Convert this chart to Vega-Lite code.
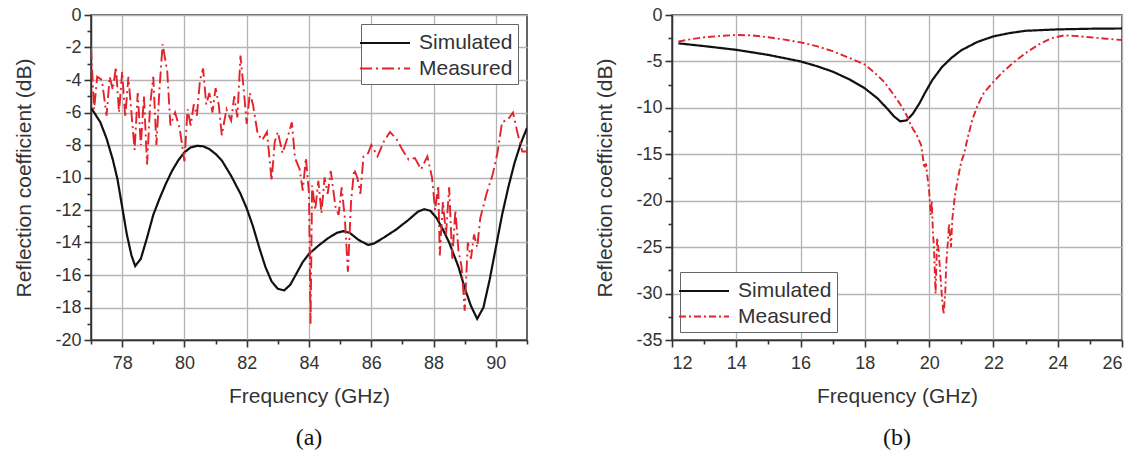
{
  "$schema": "https://vega.github.io/schema/vega-lite/v6.json",
  "padding": {"left": 13, "top": 5, "right": 2, "bottom": 0},
  "background": "white",
  "datasets": {
    "a": [
      {"f": 77.0, "db": -5.7, "series": "Simulated"},
      {"f": 77.3, "db": -6.6, "series": "Simulated"},
      {"f": 77.5, "db": -7.6, "series": "Simulated"},
      {"f": 77.7, "db": -8.9, "series": "Simulated"},
      {"f": 77.85, "db": -10.1, "series": "Simulated"},
      {"f": 78.0, "db": -11.8, "series": "Simulated"},
      {"f": 78.15, "db": -13.5, "series": "Simulated"},
      {"f": 78.3, "db": -14.8, "series": "Simulated"},
      {"f": 78.42, "db": -15.45, "series": "Simulated"},
      {"f": 78.6, "db": -15.0, "series": "Simulated"},
      {"f": 78.8, "db": -13.7, "series": "Simulated"},
      {"f": 79.0, "db": -12.3, "series": "Simulated"},
      {"f": 79.2, "db": -11.3, "series": "Simulated"},
      {"f": 79.4, "db": -10.4, "series": "Simulated"},
      {"f": 79.6, "db": -9.6, "series": "Simulated"},
      {"f": 79.8, "db": -8.95, "series": "Simulated"},
      {"f": 80.0, "db": -8.45, "series": "Simulated"},
      {"f": 80.2, "db": -8.15, "series": "Simulated"},
      {"f": 80.4, "db": -8.05, "series": "Simulated"},
      {"f": 80.6, "db": -8.08, "series": "Simulated"},
      {"f": 80.8, "db": -8.25, "series": "Simulated"},
      {"f": 81.0, "db": -8.55, "series": "Simulated"},
      {"f": 81.2, "db": -8.95, "series": "Simulated"},
      {"f": 81.5, "db": -9.9, "series": "Simulated"},
      {"f": 81.8, "db": -11.0, "series": "Simulated"},
      {"f": 82.0, "db": -11.9, "series": "Simulated"},
      {"f": 82.2, "db": -13.0, "series": "Simulated"},
      {"f": 82.4, "db": -14.3, "series": "Simulated"},
      {"f": 82.6, "db": -15.5, "series": "Simulated"},
      {"f": 82.8, "db": -16.4, "series": "Simulated"},
      {"f": 83.0, "db": -16.85, "series": "Simulated"},
      {"f": 83.2, "db": -16.95, "series": "Simulated"},
      {"f": 83.4, "db": -16.6, "series": "Simulated"},
      {"f": 83.6, "db": -15.9, "series": "Simulated"},
      {"f": 83.8, "db": -15.2, "series": "Simulated"},
      {"f": 84.0, "db": -14.7, "series": "Simulated"},
      {"f": 84.3, "db": -14.2, "series": "Simulated"},
      {"f": 84.6, "db": -13.75, "series": "Simulated"},
      {"f": 84.9, "db": -13.4, "series": "Simulated"},
      {"f": 85.1, "db": -13.3, "series": "Simulated"},
      {"f": 85.3, "db": -13.4, "series": "Simulated"},
      {"f": 85.6, "db": -13.85, "series": "Simulated"},
      {"f": 85.9, "db": -14.15, "series": "Simulated"},
      {"f": 86.1, "db": -14.05, "series": "Simulated"},
      {"f": 86.4, "db": -13.7, "series": "Simulated"},
      {"f": 86.8, "db": -13.2, "series": "Simulated"},
      {"f": 87.2, "db": -12.6, "series": "Simulated"},
      {"f": 87.5, "db": -12.1, "series": "Simulated"},
      {"f": 87.7, "db": -11.95, "series": "Simulated"},
      {"f": 87.9, "db": -12.05, "series": "Simulated"},
      {"f": 88.1, "db": -12.5, "series": "Simulated"},
      {"f": 88.3, "db": -13.2, "series": "Simulated"},
      {"f": 88.5, "db": -14.0, "series": "Simulated"},
      {"f": 88.8, "db": -15.5, "series": "Simulated"},
      {"f": 89.0, "db": -16.8, "series": "Simulated"},
      {"f": 89.2, "db": -17.9, "series": "Simulated"},
      {"f": 89.4, "db": -18.7, "series": "Simulated"},
      {"f": 89.6, "db": -18.0, "series": "Simulated"},
      {"f": 89.8, "db": -16.3, "series": "Simulated"},
      {"f": 90.0, "db": -14.3, "series": "Simulated"},
      {"f": 90.2, "db": -12.3, "series": "Simulated"},
      {"f": 90.4, "db": -10.6, "series": "Simulated"},
      {"f": 90.6, "db": -9.1, "series": "Simulated"},
      {"f": 90.8, "db": -7.9, "series": "Simulated"},
      {"f": 91.0, "db": -6.95, "series": "Simulated"},
      {"f": 77.0, "db": -2.0, "series": "Measured"},
      {"f": 77.1, "db": -5.8, "series": "Measured"},
      {"f": 77.2, "db": -3.8, "series": "Measured"},
      {"f": 77.35, "db": -4.0, "series": "Measured"},
      {"f": 77.5, "db": -6.2, "series": "Measured"},
      {"f": 77.6, "db": -3.8, "series": "Measured"},
      {"f": 77.7, "db": -4.6, "series": "Measured"},
      {"f": 77.8, "db": -3.2, "series": "Measured"},
      {"f": 77.9, "db": -6.0, "series": "Measured"},
      {"f": 78.0, "db": -3.5, "series": "Measured"},
      {"f": 78.1, "db": -6.3, "series": "Measured"},
      {"f": 78.2, "db": -3.8, "series": "Measured"},
      {"f": 78.4, "db": -8.3, "series": "Measured"},
      {"f": 78.5, "db": -4.8, "series": "Measured"},
      {"f": 78.6, "db": -8.0, "series": "Measured"},
      {"f": 78.7, "db": -5.0, "series": "Measured"},
      {"f": 78.8, "db": -9.2, "series": "Measured"},
      {"f": 78.9, "db": -5.5, "series": "Measured"},
      {"f": 79.0, "db": -3.8, "series": "Measured"},
      {"f": 79.1, "db": -8.0, "series": "Measured"},
      {"f": 79.2, "db": -4.5, "series": "Measured"},
      {"f": 79.3, "db": -1.8, "series": "Measured"},
      {"f": 79.45, "db": -3.5, "series": "Measured"},
      {"f": 79.55, "db": -6.8, "series": "Measured"},
      {"f": 79.7, "db": -6.0, "series": "Measured"},
      {"f": 79.85, "db": -7.0, "series": "Measured"},
      {"f": 80.0, "db": -9.0, "series": "Measured"},
      {"f": 80.1, "db": -5.8, "series": "Measured"},
      {"f": 80.2, "db": -6.8, "series": "Measured"},
      {"f": 80.3, "db": -5.5, "series": "Measured"},
      {"f": 80.4, "db": -6.2, "series": "Measured"},
      {"f": 80.5, "db": -4.0, "series": "Measured"},
      {"f": 80.6, "db": -3.3, "series": "Measured"},
      {"f": 80.7, "db": -5.5, "series": "Measured"},
      {"f": 80.8, "db": -4.8, "series": "Measured"},
      {"f": 80.9, "db": -6.0, "series": "Measured"},
      {"f": 81.0, "db": -4.5, "series": "Measured"},
      {"f": 81.1, "db": -5.5, "series": "Measured"},
      {"f": 81.2, "db": -7.4, "series": "Measured"},
      {"f": 81.35, "db": -5.8, "series": "Measured"},
      {"f": 81.5, "db": -6.5, "series": "Measured"},
      {"f": 81.6, "db": -5.0, "series": "Measured"},
      {"f": 81.7, "db": -6.3, "series": "Measured"},
      {"f": 81.8, "db": -2.5, "series": "Measured"},
      {"f": 81.9, "db": -4.5, "series": "Measured"},
      {"f": 82.0, "db": -6.7, "series": "Measured"},
      {"f": 82.1, "db": -4.8, "series": "Measured"},
      {"f": 82.2, "db": -5.5, "series": "Measured"},
      {"f": 82.35, "db": -7.3, "series": "Measured"},
      {"f": 82.5, "db": -7.7, "series": "Measured"},
      {"f": 82.65, "db": -7.2, "series": "Measured"},
      {"f": 82.8, "db": -10.2, "series": "Measured"},
      {"f": 82.9, "db": -7.8, "series": "Measured"},
      {"f": 83.0, "db": -7.2, "series": "Measured"},
      {"f": 83.15, "db": -8.5, "series": "Measured"},
      {"f": 83.3, "db": -7.6, "series": "Measured"},
      {"f": 83.45, "db": -6.6, "series": "Measured"},
      {"f": 83.55, "db": -8.8, "series": "Measured"},
      {"f": 83.7, "db": -9.5, "series": "Measured"},
      {"f": 83.8, "db": -10.8, "series": "Measured"},
      {"f": 83.9, "db": -8.8, "series": "Measured"},
      {"f": 84.0, "db": -11.0, "series": "Measured"},
      {"f": 84.05, "db": -19.0, "series": "Measured"},
      {"f": 84.1, "db": -10.5, "series": "Measured"},
      {"f": 84.2, "db": -12.0, "series": "Measured"},
      {"f": 84.3, "db": -10.2, "series": "Measured"},
      {"f": 84.4, "db": -12.2, "series": "Measured"},
      {"f": 84.5, "db": -10.0, "series": "Measured"},
      {"f": 84.6, "db": -11.0, "series": "Measured"},
      {"f": 84.7, "db": -9.6, "series": "Measured"},
      {"f": 84.85, "db": -11.8, "series": "Measured"},
      {"f": 84.95, "db": -12.3, "series": "Measured"},
      {"f": 85.05, "db": -10.6, "series": "Measured"},
      {"f": 85.15, "db": -12.5, "series": "Measured"},
      {"f": 85.25, "db": -15.8, "series": "Measured"},
      {"f": 85.35, "db": -11.5, "series": "Measured"},
      {"f": 85.45, "db": -9.5, "series": "Measured"},
      {"f": 85.55, "db": -10.0, "series": "Measured"},
      {"f": 85.65, "db": -11.0, "series": "Measured"},
      {"f": 85.75, "db": -8.7, "series": "Measured"},
      {"f": 85.9, "db": -8.5, "series": "Measured"},
      {"f": 86.0, "db": -8.0, "series": "Measured"},
      {"f": 86.2, "db": -8.7, "series": "Measured"},
      {"f": 86.4, "db": -7.8, "series": "Measured"},
      {"f": 86.6, "db": -7.2, "series": "Measured"},
      {"f": 86.8, "db": -7.6, "series": "Measured"},
      {"f": 87.0, "db": -8.3, "series": "Measured"},
      {"f": 87.2, "db": -8.9, "series": "Measured"},
      {"f": 87.4, "db": -8.8, "series": "Measured"},
      {"f": 87.6, "db": -9.5, "series": "Measured"},
      {"f": 87.8, "db": -8.7, "series": "Measured"},
      {"f": 87.95, "db": -10.0, "series": "Measured"},
      {"f": 88.05, "db": -12.0, "series": "Measured"},
      {"f": 88.15, "db": -10.5, "series": "Measured"},
      {"f": 88.2, "db": -14.8, "series": "Measured"},
      {"f": 88.3, "db": -11.5, "series": "Measured"},
      {"f": 88.4, "db": -13.5, "series": "Measured"},
      {"f": 88.5, "db": -10.6, "series": "Measured"},
      {"f": 88.6, "db": -15.0, "series": "Measured"},
      {"f": 88.7, "db": -12.0, "series": "Measured"},
      {"f": 88.8, "db": -14.5, "series": "Measured"},
      {"f": 88.9, "db": -15.5, "series": "Measured"},
      {"f": 89.0, "db": -18.2, "series": "Measured"},
      {"f": 89.1, "db": -14.0, "series": "Measured"},
      {"f": 89.2, "db": -15.0, "series": "Measured"},
      {"f": 89.3, "db": -13.5, "series": "Measured"},
      {"f": 89.4, "db": -14.3, "series": "Measured"},
      {"f": 89.5, "db": -12.5, "series": "Measured"},
      {"f": 89.7, "db": -11.0, "series": "Measured"},
      {"f": 89.9, "db": -9.8, "series": "Measured"},
      {"f": 90.05, "db": -8.5, "series": "Measured"},
      {"f": 90.2, "db": -6.6, "series": "Measured"},
      {"f": 90.4, "db": -6.4, "series": "Measured"},
      {"f": 90.55, "db": -6.0, "series": "Measured"},
      {"f": 90.7, "db": -7.3, "series": "Measured"},
      {"f": 90.85, "db": -8.4, "series": "Measured"},
      {"f": 91.0, "db": -8.4, "series": "Measured"}
    ],
    "b": [
      {"f": 12.2, "db": -3.05, "series": "Simulated"},
      {"f": 13.0, "db": -3.35, "series": "Simulated"},
      {"f": 14.0, "db": -3.75, "series": "Simulated"},
      {"f": 15.0, "db": -4.3, "series": "Simulated"},
      {"f": 16.0, "db": -5.0, "series": "Simulated"},
      {"f": 16.5, "db": -5.5, "series": "Simulated"},
      {"f": 17.0, "db": -6.1, "series": "Simulated"},
      {"f": 17.5, "db": -6.9, "series": "Simulated"},
      {"f": 18.0, "db": -7.9, "series": "Simulated"},
      {"f": 18.4, "db": -9.0, "series": "Simulated"},
      {"f": 18.7, "db": -10.1, "series": "Simulated"},
      {"f": 18.9, "db": -10.9, "series": "Simulated"},
      {"f": 19.1, "db": -11.45, "series": "Simulated"},
      {"f": 19.3, "db": -11.35, "series": "Simulated"},
      {"f": 19.5, "db": -10.6, "series": "Simulated"},
      {"f": 19.7, "db": -9.5, "series": "Simulated"},
      {"f": 19.9, "db": -8.2, "series": "Simulated"},
      {"f": 20.1, "db": -7.0, "series": "Simulated"},
      {"f": 20.4, "db": -5.6, "series": "Simulated"},
      {"f": 20.7, "db": -4.6, "series": "Simulated"},
      {"f": 21.0, "db": -3.8, "series": "Simulated"},
      {"f": 21.5, "db": -2.9, "series": "Simulated"},
      {"f": 22.0, "db": -2.3, "series": "Simulated"},
      {"f": 22.5, "db": -1.95, "series": "Simulated"},
      {"f": 23.0, "db": -1.7, "series": "Simulated"},
      {"f": 24.0, "db": -1.55, "series": "Simulated"},
      {"f": 25.0, "db": -1.48, "series": "Simulated"},
      {"f": 26.0, "db": -1.45, "series": "Simulated"},
      {"f": 12.2, "db": -2.85, "series": "Measured"},
      {"f": 12.6, "db": -2.6, "series": "Measured"},
      {"f": 13.0, "db": -2.4, "series": "Measured"},
      {"f": 13.5, "db": -2.25, "series": "Measured"},
      {"f": 14.0, "db": -2.15, "series": "Measured"},
      {"f": 14.5, "db": -2.2, "series": "Measured"},
      {"f": 15.0, "db": -2.4, "series": "Measured"},
      {"f": 15.5, "db": -2.65, "series": "Measured"},
      {"f": 16.0, "db": -2.95, "series": "Measured"},
      {"f": 16.5, "db": -3.35, "series": "Measured"},
      {"f": 17.0, "db": -3.9, "series": "Measured"},
      {"f": 17.5, "db": -4.6, "series": "Measured"},
      {"f": 18.0, "db": -5.35, "series": "Measured"},
      {"f": 18.3, "db": -6.2, "series": "Measured"},
      {"f": 18.6, "db": -7.2, "series": "Measured"},
      {"f": 18.9, "db": -8.6, "series": "Measured"},
      {"f": 19.1, "db": -9.6, "series": "Measured"},
      {"f": 19.3, "db": -10.8, "series": "Measured"},
      {"f": 19.4, "db": -11.6, "series": "Measured"},
      {"f": 19.5, "db": -12.3, "series": "Measured"},
      {"f": 19.6, "db": -12.8, "series": "Measured"},
      {"f": 19.7, "db": -13.6, "series": "Measured"},
      {"f": 19.75, "db": -14.0, "series": "Measured"},
      {"f": 19.8, "db": -15.2, "series": "Measured"},
      {"f": 19.85, "db": -16.5, "series": "Measured"},
      {"f": 19.9, "db": -16.0, "series": "Measured"},
      {"f": 19.95, "db": -17.5, "series": "Measured"},
      {"f": 20.0, "db": -19.0, "series": "Measured"},
      {"f": 20.05, "db": -21.5, "series": "Measured"},
      {"f": 20.08, "db": -20.0, "series": "Measured"},
      {"f": 20.12, "db": -23.5, "series": "Measured"},
      {"f": 20.15, "db": -25.0, "series": "Measured"},
      {"f": 20.2, "db": -30.0, "series": "Measured"},
      {"f": 20.25, "db": -24.0, "series": "Measured"},
      {"f": 20.3, "db": -25.5, "series": "Measured"},
      {"f": 20.35, "db": -28.0, "series": "Measured"},
      {"f": 20.4, "db": -30.5, "series": "Measured"},
      {"f": 20.45, "db": -32.2, "series": "Measured"},
      {"f": 20.5, "db": -30.0, "series": "Measured"},
      {"f": 20.53, "db": -27.0, "series": "Measured"},
      {"f": 20.58, "db": -24.5, "series": "Measured"},
      {"f": 20.62, "db": -22.5, "series": "Measured"},
      {"f": 20.68, "db": -25.0, "series": "Measured"},
      {"f": 20.72, "db": -22.0, "series": "Measured"},
      {"f": 20.8, "db": -19.5, "series": "Measured"},
      {"f": 20.9, "db": -17.5, "series": "Measured"},
      {"f": 21.0, "db": -15.8, "series": "Measured"},
      {"f": 21.1, "db": -14.8, "series": "Measured"},
      {"f": 21.2, "db": -13.2, "series": "Measured"},
      {"f": 21.35, "db": -11.2, "series": "Measured"},
      {"f": 21.5, "db": -9.8, "series": "Measured"},
      {"f": 21.7, "db": -8.4, "series": "Measured"},
      {"f": 22.0, "db": -7.2, "series": "Measured"},
      {"f": 22.3, "db": -6.1, "series": "Measured"},
      {"f": 22.7, "db": -4.9, "series": "Measured"},
      {"f": 23.0, "db": -4.1, "series": "Measured"},
      {"f": 23.4, "db": -3.2, "series": "Measured"},
      {"f": 23.8, "db": -2.5, "series": "Measured"},
      {"f": 24.2, "db": -2.2, "series": "Measured"},
      {"f": 24.5, "db": -2.25, "series": "Measured"},
      {"f": 25.0, "db": -2.4, "series": "Measured"},
      {"f": 25.5, "db": -2.55, "series": "Measured"},
      {"f": 26.0, "db": -2.7, "series": "Measured"}
    ]
  },
  "config": {
    "font": "Liberation Sans",
    "view": {"stroke": "#333", "strokeWidth": 1.5},
    "axis": {
      "gridColor": "#b4b4b4",
      "gridWidth": 1.3,
      "gridOpacity": 1,
      "domainColor": "#333",
      "domainWidth": 1.5,
      "tickColor": "#333",
      "tickWidth": 1.6,
      "labelFont": "Liberation Sans",
      "labelFontSize": 18,
      "labelColor": "#333",
      "labelPadding": 3,
      "titleFont": "Liberation Sans",
      "titleFontSize": 21,
      "titleFontWeight": "normal",
      "titleColor": "#333"
    },
    "axisX": {"labelPadding": 7, "titlePadding": 13},
    "axisY": {"titlePadding": 20},
    "legend": {
      "title": null,
      "strokeColor": "#666",
      "fillColor": "white",
      "padding": 5,
      "labelFont": "Liberation Sans",
      "labelFontSize": 21,
      "labelColor": "#333",
      "symbolType": "M-2,0H2",
      "symbolSize": 625,
      "symbolOffset": 5,
      "symbolStrokeWidth": 2,
      "rowPadding": 2,
      "labelOffset": 20
    },
    "title": {"font": "Liberation Serif", "fontSize": 24, "fontWeight": "normal", "color": "#111", "orient": "bottom", "anchor": "middle"}
  },
  "hconcat": [
    {
      "width": 436,
      "height": 325,
      "data": {"name": "a"},
      "title": {"text": "(a)", "offset": 20},
      "resolve": {"axis": {"x": "independent", "y": "independent"}},
      "layer": [
        {
          "mark": {"type": "line", "clip": true},
          "encoding": {
            "x": {
              "field": "f", "type": "quantitative",
              "scale": {"domain": [77, 91], "nice": false, "zero": false},
              "axis": {
                "orient": "bottom",
                "title": "Frequency (GHz)",
                "grid": true,
                "values": [78, 80, 82, 84, 86, 88, 90],
                "labelExpr": "toString(datum.value)",
                "tickSize": 7
              }
            },
            "y": {
              "field": "db", "type": "quantitative",
              "scale": {"domain": [-20, 0], "nice": false, "zero": false},
              "axis": {
                "orient": "left",
                "title": "Reflection coefficient (dB)",
                "grid": true,
                "values": [-20, -18, -16, -14, -12, -10, -8, -6, -4, -2, 0],
                "labelExpr": "toString(datum.value)",
                "tickSize": 7
              }
            },
            "color": {
              "field": "series", "type": "nominal", "sort": ["Simulated", "Measured"],
              "scale": {"domain": ["Simulated", "Measured"], "range": ["#111111", "#e3232b"]},
              "legend": {"orient": "top-right", "offset": 9}
            },
            "strokeDash": {
              "field": "series", "type": "nominal", "sort": ["Simulated", "Measured"],
              "scale": {"domain": ["Simulated", "Measured"], "range": [[1, 0], [12, 4, 2, 4]]},
              "legend": {"orient": "top-right", "offset": 9}
            },
            "strokeWidth": {
              "field": "series", "type": "nominal",
              "scale": {"domain": ["Simulated", "Measured"], "range": [2.2, 1.9]},
              "legend": null
            }
          }
        },
        {
          "mark": {"type": "line", "opacity": 0},
          "encoding": {
            "x": {
              "field": "f", "type": "quantitative",
              "axis": {"orient": "bottom", "title": null, "grid": false, "domain": false, "labels": false, "tickSize": 4,
                       "values": [77, 79, 81, 83, 85, 87, 89, 91]}
            },
            "y": {
              "field": "db", "type": "quantitative",
              "axis": {"orient": "left", "title": null, "grid": false, "domain": false, "labels": false, "tickSize": 4,
                       "values": [-19, -17, -15, -13, -11, -9, -7, -5, -3, -1]}
            },
            "detail": {"field": "series"}
          }
        }
      ]
    },
    {
      "width": 450,
      "height": 325,
      "data": {"name": "b"},
      "title": {"text": "(b)", "offset": 20},
      "resolve": {"axis": {"x": "independent", "y": "independent"}},
      "layer": [
        {
          "mark": {"type": "line", "clip": true},
          "encoding": {
            "x": {
              "field": "f", "type": "quantitative",
              "scale": {"domain": [12, 26], "nice": false, "zero": false},
              "axis": {
                "orient": "bottom",
                "title": "Frequency (GHz)",
                "grid": true,
                "values": [12, 14, 16, 18, 20, 22, 24, 26],
                "labelExpr": "toString(datum.value)",
                "tickSize": 7
              }
            },
            "y": {
              "field": "db", "type": "quantitative",
              "scale": {"domain": [-35, 0], "nice": false, "zero": false},
              "axis": {
                "orient": "left",
                "title": "Reflection coefficient (dB)",
                "grid": true,
                "values": [-35, -30, -25, -20, -15, -10, -5, 0],
                "labelExpr": "toString(datum.value)",
                "tickSize": 7
              }
            },
            "color": {
              "field": "series", "type": "nominal", "sort": ["Simulated", "Measured"],
              "scale": {"domain": ["Simulated", "Measured"], "range": ["#111111", "#e3232b"]},
              "legend": {"orient": "bottom-left", "offset": 8}
            },
            "strokeDash": {
              "field": "series", "type": "nominal", "sort": ["Simulated", "Measured"],
              "scale": {"domain": ["Simulated", "Measured"], "range": [[1, 0], [7, 3, 2, 3]]},
              "legend": {"orient": "bottom-left", "offset": 8}
            },
            "strokeWidth": {
              "field": "series", "type": "nominal",
              "scale": {"domain": ["Simulated", "Measured"], "range": [2.2, 1.9]},
              "legend": null
            }
          }
        },
        {
          "mark": {"type": "line", "opacity": 0},
          "encoding": {
            "x": {
              "field": "f", "type": "quantitative",
              "axis": {"orient": "bottom", "title": null, "grid": false, "domain": false, "labels": false, "tickSize": 4,
                       "values": [13, 15, 17, 19, 21, 23, 25]}
            },
            "y": {
              "field": "db", "type": "quantitative",
              "axis": {"orient": "left", "title": null, "grid": false, "domain": false, "labels": false, "tickSize": 4,
                       "values": [-32.5, -27.5, -22.5, -17.5, -12.5, -7.5, -2.5]}
            },
            "detail": {"field": "series"}
          }
        }
      ]
    }
  ],
  "spacing": 65,
  "resolve": {
    "scale": {"color": "independent", "strokeDash": "independent", "strokeWidth": "independent"},
    "legend": {"color": "independent", "strokeDash": "independent"}
  }
}
